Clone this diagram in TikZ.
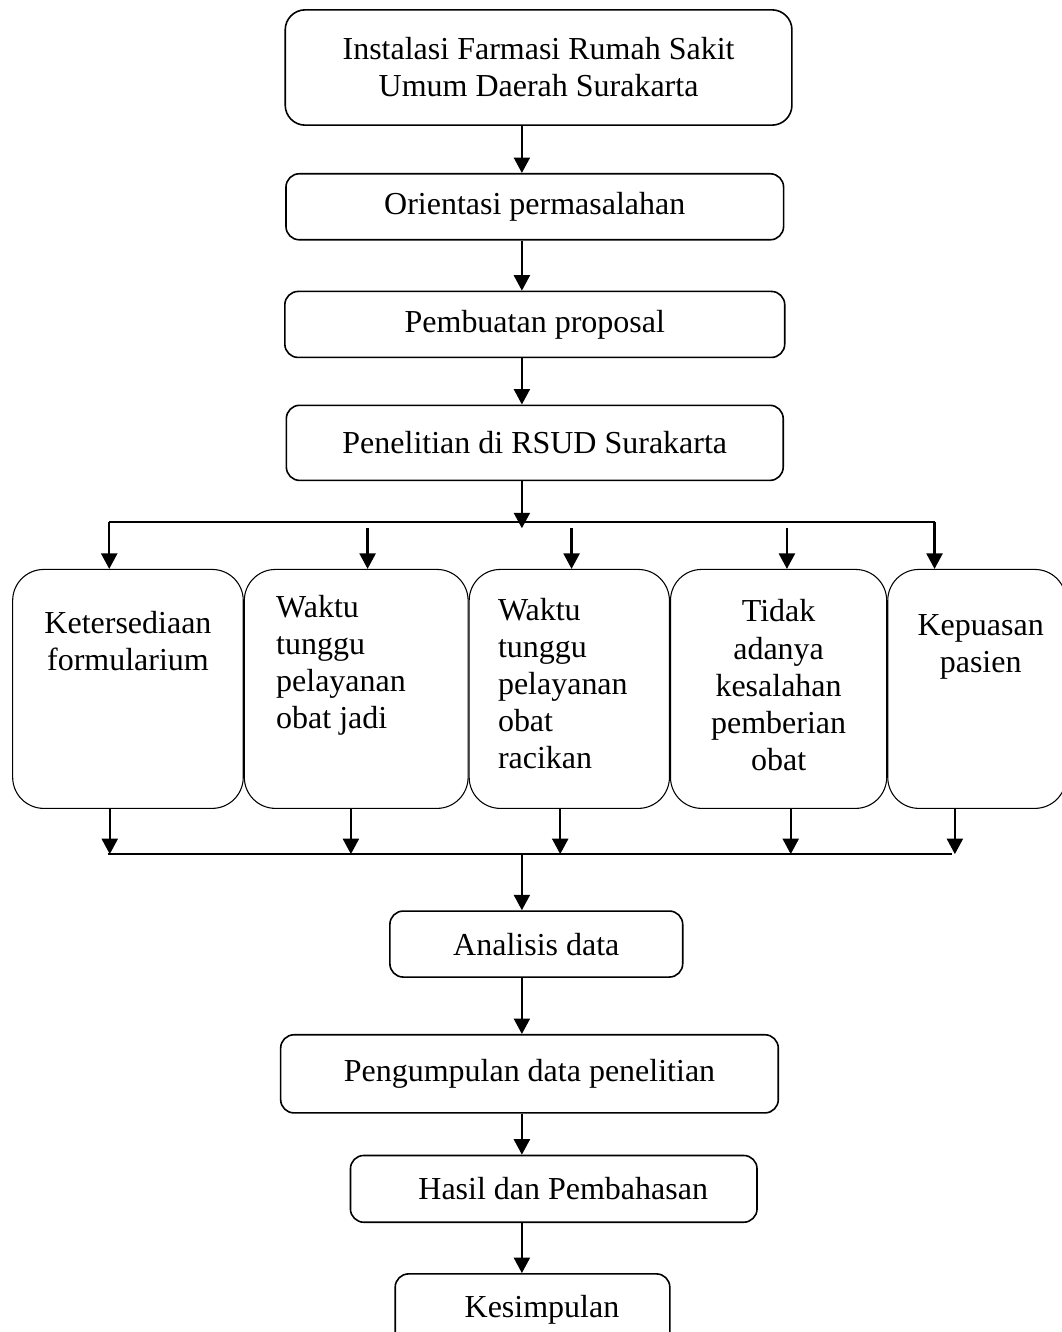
\documentclass[tikz,border=0pt]{standalone}
\usepackage{fontspec}
\setmainfont{Liberation Serif}
\usetikzlibrary{arrows.meta, positioning, calc}

\begin{document}
\begin{tikzpicture}[
    % ── Node styles ──────────────────────────────────────────────────────
    base/.style={
        draw, line width=0.6pt, rounded corners=5pt,
        font=\fontsize{12}{13.9}\selectfont,
        align=center, inner sep=0pt
    },
    langkah/.style={
        base, minimum height=0.87cm
    },
    kolom/.style={
        draw, line width=0.4pt, rounded corners=0.41cm,
        minimum height=3.15cm, inner sep=0pt
    },
    isikolom/.style={
        font=\fontsize{12}{13.9}\selectfont, inner sep=0pt
    },
    % ── Arrow style ──────────────────────────────────────────────────────
    panah/.style={
        -{Triangle[length=5.8pt, width=6pt]},
        line width=0.85pt
    },
    bus/.style={
        line width=0.8pt
    }
]

\useasboundingbox (0,0) rectangle (14.0,-17.56);

% vertical line of the main arrows
\coordinate (spine) at (6.88,0);

% ═══════════════════════════════════════════════════════════════════════════
% 1. Main chain at top
% ═══════════════════════════════════════════════════════════════════════════
\node[langkah, rounded corners=7.5pt, minimum width=6.68cm, minimum height=1.52cm]
    (instalasi) at (7.10,-0.89)
    {Instalasi Farmasi Rumah Sakit\\Umum Daerah Surakarta};

\node[langkah, minimum width=6.56cm, below=0.62cm of instalasi, xshift=-0.05cm]
    (orientasi) {Orientasi permasalahan};

\node[langkah, minimum width=6.59cm, below=0.66cm of orientasi]
    (proposal) {Pembuatan proposal};

\node[langkah, minimum width=6.55cm, minimum height=0.99cm, below=0.61cm of proposal]
    (penelitian) {Penelitian di RSUD Surakarta};

\draw[panah] (instalasi.south -| spine) -- (orientasi.north -| spine);
\draw[panah] (orientasi.south -| spine) -- (proposal.north -| spine);
\draw[panah] (proposal.south -| spine)  -- (penelitian.north -| spine);

% ═══════════════════════════════════════════════════════════════════════════
% 2. Top bus and the five indicators
% ═══════════════════════════════════════════════════════════════════════════
\coordinate[below=0.62cm of penelitian] (busatas);
\coordinate (busatas-kiri)  at (1.44,-6.88);
\coordinate (busatas-kanan) at (12.32,-6.88);

\draw[panah] (penelitian.south -| spine) -- (busatas -| spine);
\draw[bus] (busatas-kiri) -- (busatas-kanan);

\node[kolom, minimum width=3.04cm, anchor=north west] (ketersediaan) at (0.16,-7.50) {};
\node[kolom, minimum width=2.95cm, right=0pt of ketersediaan] (obatjadi) {};
\node[kolom, minimum width=2.64cm, right=0pt of obatjadi] (obatracikan) {};
\node[kolom, minimum width=2.85cm, right=0pt of obatracikan] (kesalahan) {};
\node[kolom, minimum width=2.35cm, right=0pt of kesalahan] (kepuasan) {};

% Texts inside the indicators
\node[isikolom, align=center, anchor=north] (teks-ketersediaan)
    at ([yshift=-0.55cm]ketersediaan.north) {Ketersediaan\\formularium};
\node[isikolom, align=left, anchor=north west] (teks-obatjadi)
    at ([xshift=0.42cm, yshift=-0.34cm]obatjadi.north west)
    {Waktu\\tunggu\\pelayanan\\obat jadi};
\node[isikolom, align=left, anchor=north west] (teks-obatracikan)
    at ([xshift=0.38cm, yshift=-0.38cm]obatracikan.north west)
    {Waktu\\tunggu\\pelayanan\\obat\\racikan};
\node[isikolom, align=center, anchor=north] (teks-kesalahan)
    at ([yshift=-0.40cm]kesalahan.north)
    {Tidak\\adanya\\kesalahan\\pemberian\\obat};
\node[isikolom, align=center, anchor=north] (teks-kepuasan)
    at ([xshift=0.05cm, yshift=-0.59cm]kepuasan.north) {Kepuasan\\pasien};

% Bus to indicators
\draw[panah] (busatas-kiri) -- (busatas-kiri |- ketersediaan.north);
\draw[panah] ([xshift=0.15cm]obatjadi.north |- busatas) -- ([xshift=0.15cm]obatjadi.north);
\draw[panah] ([xshift=0.03cm]obatracikan.north |- busatas) -- ([xshift=0.03cm]obatracikan.north);
\draw[panah] ([xshift=0.11cm]kesalahan.north |- busatas) -- ([xshift=0.11cm]kesalahan.north);
\draw[panah] (busatas-kanan) -- (busatas-kanan |- kepuasan.north);

% ═══════════════════════════════════════════════════════════════════════════
% 3. Bottom bus
% ═══════════════════════════════════════════════════════════════════════════
\coordinate (busbawah)       at (7.07,-11.26);
\coordinate (busbawah-kiri)  at (1.42,-11.26);
\coordinate (busbawah-kanan) at (12.55,-11.26);

\draw[bus] (busbawah-kiri) -- (busbawah-kanan);

\draw[panah] ([xshift=-0.24cm]ketersediaan.south) -- ([xshift=-0.24cm]ketersediaan.south |- busbawah);
\draw[panah] ([xshift=-0.07cm]obatjadi.south) -- ([xshift=-0.07cm]obatjadi.south |- busbawah);
\draw[panah] ([xshift=-0.12cm]obatracikan.south) -- ([xshift=-0.12cm]obatracikan.south |- busbawah);
\draw[panah] ([xshift=0.16cm]kesalahan.south) -- ([xshift=0.16cm]kesalahan.south |- busbawah);
\draw[panah] ([xshift=-0.29cm]kepuasan.south) -- ([xshift=-0.29cm]kepuasan.south |- busbawah);

% ═══════════════════════════════════════════════════════════════════════════
% 4. Main chain at bottom
% ═══════════════════════════════════════════════════════════════════════════
\node[langkah, minimum width=3.86cm, below=0.74cm of busbawah]
    (analisis) {Analisis data};

\node[langkah, minimum width=6.56cm, minimum height=1.03cm, below=0.74cm of analisis, xshift=-0.09cm]
    (pengumpulan) {Pengumpulan data penelitian};

\node[langkah, minimum width=5.36cm, minimum height=0.88cm, below=0.54cm of pengumpulan, xshift=0.32cm]
    (hasil) {\hspace*{0.25cm}Hasil dan Pembahasan};

\node[langkah, minimum width=3.62cm, minimum height=0.95cm, below=0.66cm of hasil, xshift=-0.28cm]
    (kesimpulan) {\hspace*{0.25cm}Kesimpulan};

\draw[panah] (busbawah -| spine)         -- (analisis.north -| spine);
\draw[panah] (analisis.south -| spine)    -- (pengumpulan.north -| spine);
\draw[panah] (pengumpulan.south -| spine) -- (hasil.north -| spine);
\draw[panah] (hasil.south -| spine)       -- (kesimpulan.north -| spine);

\end{tikzpicture}
\end{document}
